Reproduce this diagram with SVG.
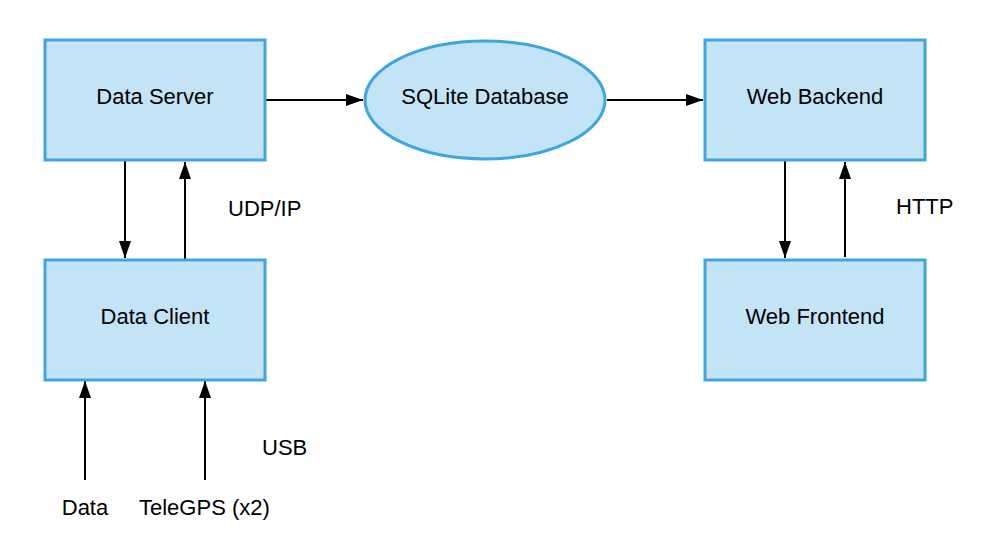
<svg xmlns="http://www.w3.org/2000/svg" width="992" height="556" viewBox="0 0 992 556">
<style>
.box{fill:#c2e4f6;stroke:#3ea6dd;stroke-width:3}
.t{font-family:"Liberation Sans",Arial,sans-serif;font-size:22px;fill:#000}
.c{text-anchor:middle}
.l{fill:none;stroke:#000;stroke-width:2}
</style>
<defs>
<marker id="ah" markerUnits="userSpaceOnUse" markerWidth="18" markerHeight="14" refX="17" refY="6" orient="auto">
<path d="M0,0 L17,6 L0,12 Z" fill="#000"/>
</marker>
</defs>
<rect width="992" height="556" fill="#fff"/>
<g id="connectors">
<line class="l" x1="266" y1="100" x2="363" y2="100" marker-end="url(#ah)"/>
<line class="l" x1="607" y1="100" x2="703" y2="100" marker-end="url(#ah)"/>
<line class="l" x1="125" y1="161" x2="125" y2="258" marker-end="url(#ah)"/>
<line class="l" x1="185" y1="259" x2="185" y2="162" marker-end="url(#ah)"/>
<line class="l" x1="85" y1="480" x2="85" y2="381" marker-end="url(#ah)"/>
<line class="l" x1="205" y1="480" x2="205" y2="381" marker-end="url(#ah)"/>
<line class="l" x1="785" y1="161" x2="785" y2="258" marker-end="url(#ah)"/>
<line class="l" x1="845" y1="257" x2="845" y2="162" marker-end="url(#ah)"/>
</g>
<g id="data-server"><rect class="box" x="45" y="40" width="220" height="120"/><text class="t c" x="155" y="104">Data Server</text></g>
<g id="sqlite"><ellipse class="box" cx="485" cy="100" rx="120" ry="59"/><text class="t c" x="485" y="104">SQLite Database</text></g>
<g id="web-backend"><rect class="box" x="705" y="40" width="220" height="120"/><text class="t c" x="815" y="104">Web Backend</text></g>
<g id="data-client"><rect class="box" x="45" y="260" width="220" height="120"/><text class="t c" x="155" y="324">Data Client</text></g>
<g id="web-frontend"><rect class="box" x="705" y="260" width="220" height="120"/><text class="t c" x="815" y="324">Web Frontend</text></g>
<g id="data"><text class="t c" x="85" y="515">Data</text></g>
<g id="telegps"><text class="t" x="139" y="515">TeleGPS (x2)</text></g>
<g id="labels">
<text class="t" x="228" y="216">UDP/IP</text>
<text class="t" x="896" y="214">HTTP</text>
<text class="t" x="262" y="455">USB</text>
</g>
</svg>
